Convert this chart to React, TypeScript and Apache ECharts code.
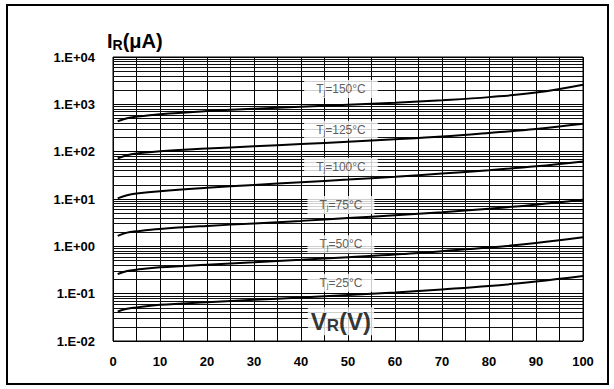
import React, { useEffect, useRef } from 'react';
import * as echarts from 'echarts';

const voltages = [1, 3, 5, 10, 20, 30, 40, 50, 60, 70, 80, 90, 100];
const ir150 = [440, 510, 550, 620, 720, 810, 890, 980, 1080, 1220, 1420, 1770, 2600];
const ir125 = [72, 84, 91, 102, 116, 130, 145, 162, 182, 208, 248, 302, 390];
const ir100 = [10.3, 12, 13, 14.6, 17.2, 19.8, 22.6, 25.8, 29.6, 34.5, 40.5, 49, 62];
const ir75 = [1.66, 1.95, 2.08, 2.33, 2.7, 3.05, 3.45, 3.95, 4.55, 5.25, 6.25, 7.6, 9.6];
const ir50 = [0.26, 0.3, 0.32, 0.36, 0.41, 0.46, 0.52, 0.59, 0.67, 0.79, 0.94, 1.18, 1.55];
const ir25 = [0.042, 0.048, 0.051, 0.058, 0.066, 0.074, 0.083, 0.094, 0.106, 0.123, 0.145, 0.18, 0.235];

const tempNames = ['150', '125', '100', '75', '50', '25'];
const tempLabelX = 48.5;
const tempLabelY = [2100, 290, 48, 7.5, 1.1, 0.17];
const vrLabelPos = [48.5, 0.026];

const yTickLabels = ['1.E-02', '1.E-01', '1.E+00', '1.E+01', '1.E+02', '1.E+03', '1.E+04'];
const decades = [0.01, 0.1, 1, 10, 100, 1000];
const minorMultipliers = [2, 3, 4, 5, 6, 7, 8, 9];

const FONT = '"Liberation Sans", Arial, sans-serif';

export default function App() {
  const ref = useRef<HTMLDivElement>(null);
  useEffect(() => {
    if (!ref.current) return;
    const chart = echarts.init(ref.current, null, { renderer: 'svg' });
    const curves = [ir150, ir125, ir100, ir75, ir50, ir25];
    const minorValues: number[] = [];
    decades.forEach((d) => minorMultipliers.forEach((m) => minorValues.push(d * m)));

    const lineSeries = curves.map((c, i) => ({
      type: 'line',
      name: 'Tj=' + tempNames[i],
      data: voltages.map((v, k) => [v, c[k]]),
      smooth: 0.4,
      symbol: 'none',
      lineStyle: { color: '#000', width: 2 },
      z: 5,
      ...(i === 0
        ? {
            markLine: {
              silent: true,
              symbol: ['none', 'none'],
              label: { show: false },
              lineStyle: { color: '#111', width: 1, type: 'solid' },
              data: minorValues.map((v) => ({ yAxis: v })),
              z: 1,
            },
          }
        : {}),
    }));

    const labelSeries = {
      type: 'scatter',
      symbolSize: 0,
      z: 10,
      data: tempNames.map((t, i) => ({
        value: [tempLabelX, tempLabelY[i]],
        label: {
          show: true,
          position: 'inside',
          formatter: '{t|T}{s|j}{t|=' + t + '°C}',
          backgroundColor: '#fff',
          padding: [2, 12, 2, 12],
          rich: {
            t: { fontSize: 12, color: '#333', fontFamily: FONT, lineHeight: 14 },
            s: { fontSize: 8, color: '#333', fontFamily: FONT, lineHeight: 5, verticalAlign: 'bottom' },
          },
        },
      })),
    };

    const vrSeries = {
      type: 'scatter',
      symbolSize: 0,
      z: 10,
      data: [
        {
          value: vrLabelPos,
          label: {
            show: true,
            position: 'inside',
            formatter: '{t|V}{s|R}{t|(V)}',
            backgroundColor: '#fff',
            padding: [1, 3, 1, 3],
            rich: {
              t: { fontSize: 24, fontWeight: 'bold', color: '#000', fontFamily: FONT, lineHeight: 26 },
              s: { fontSize: 17, fontWeight: 'bold', color: '#000', fontFamily: FONT, lineHeight: 12, verticalAlign: 'bottom' },
            },
          },
        },
      ],
    };

    chart.setOption({
      animation: false,
      backgroundColor: '#fff',
      grid: { left: 113, top: 57, width: 470, height: 284, show: true, borderColor: '#000', borderWidth: 1, backgroundColor: 'transparent' },
      xAxis: {
        type: 'value',
        min: 0,
        max: 100,
        interval: 5,
        axisLine: { show: false },
        axisTick: { show: false },
        splitLine: { show: true, lineStyle: { color: '#000', width: 1 } },
        axisLabel: {
          margin: 14,
          fontSize: 13,
          fontWeight: 'bold',
          color: '#000',
          fontFamily: FONT,
          formatter: (v: number) => (v % 10 === 0 ? String(v) : ''),
        },
      },
      yAxis: {
        type: 'log',
        logBase: 10,
        min: 0.01,
        max: 10000,
        axisLine: { show: false },
        axisTick: { show: false },
        splitLine: { show: true, lineStyle: { color: '#000', width: 1 } },
        axisLabel: {
          margin: 18,
          fontSize: 13,
          fontWeight: 'bold',
          color: '#000',
          fontFamily: FONT,
          formatter: (v: number) => yTickLabels[Math.round(Math.log10(v)) + 2] ?? '',
        },
      },
      graphic: [
        {
          type: 'rect',
          shape: { x: 7, y: 5, width: 601, height: 379 },
          style: { fill: 'none', stroke: '#000', lineWidth: 2 },
          silent: true,
        },
        {
          type: 'text',
          x: 107,
          y: 30,
          style: {
            text: '{t|I}{s|R}{t|(μA)}',
            rich: {
              t: { fontSize: 20, fontWeight: 'bold', fill: '#000', fontFamily: FONT, lineHeight: 22 },
              s: { fontSize: 14, fontWeight: 'bold', fill: '#000', fontFamily: FONT, lineHeight: 10, verticalAlign: 'bottom' },
            },
          },
        },
      ],
      series: [...lineSeries, labelSeries, vrSeries],
    });
    return () => chart.dispose();
  }, []);
  return <div ref={ref} style={{ position: 'fixed', left: 0, top: 0, width: 614, height: 389 }} />;
}
